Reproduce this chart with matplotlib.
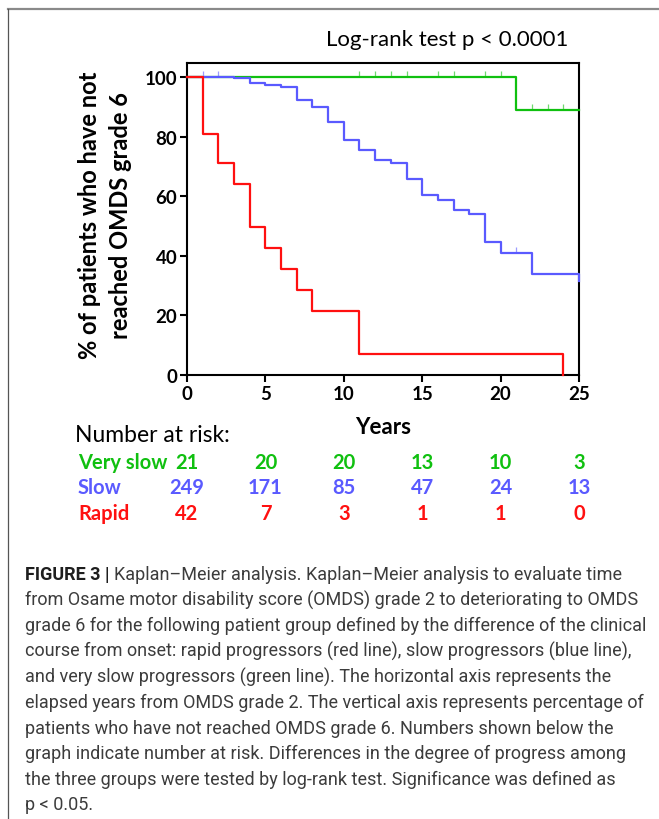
import numpy as np
import matplotlib
matplotlib.use("Agg")
import matplotlib.pyplot as plt
from matplotlib import font_manager
from matplotlib.lines import Line2D

# Kaplan-Meier curves (years, % not reached OMDS grade 6)
rapid_t = [0, 1, 2, 3, 4, 5, 6, 7, 8, 11, 24]
rapid_s = [100, 81, 71, 64, 49.5, 42.5, 35.5, 28.5, 21.5, 7, 0]

slow_t = [0, 3, 4, 5, 6, 7, 8, 9, 10, 11, 12, 13, 14, 15, 16, 17, 18, 19, 20, 22, 25]
slow_s = [100, 99.6, 98, 97.2, 96.5, 92.4, 90.1, 84.8, 78.7, 75.5, 72.1, 71,
          65.8, 60.4, 58.8, 55.4, 53.9, 44.6, 40.9, 33.9, 31.7]
slow_cens_t = [1, 2, 21]
slow_cens_s = [100, 100, 40.9]

vslow_t = [0, 21, 25]
vslow_s = [100, 88.8, 88.8]
vslow_cens_t = [11, 12, 13, 14, 16, 17, 19, 20, 22, 23, 24]
vslow_cens_s = [100] * 8 + [88.8] * 3

# number at risk table
risk_years = [0, 5, 10, 15, 20, 25]
risk_groups = ["Very slow", "Slow", "Rapid"]
risk_counts = [[21, 20, 20, 13, 10, 3],
               [249, 171, 85, 47, 24, 13],
               [42, 7, 3, 1, 1, 0]]

caption_lines = [
    "Kaplan\u2013Meier analysis. Kaplan\u2013Meier analysis to evaluate time",
    "from Osame motor disability score (OMDS) grade 2 to deteriorating to OMDS",
    "grade 6 for the following patient group defined by the difference of the clinical",
    "course from onset: rapid progressors (red line), slow progressors (blue line),",
    "and very slow progressors (green line). The horizontal axis represents the",
    "elapsed years from OMDS grade 2. The vertical axis represents percentage of",
    "patients who have not reached OMDS grade 6. Numbers shown below the",
    "graph indicate number at risk. Differences in the degree of progress among",
    "the three groups were tested by log-rank test. Significance was defined as",
    "p < 0.05.",
]

RED = "#ff1010"
BLUE = "#5a5aff"
GREEN = "#10c010"

W, H = 659, 820
fig = plt.figure(figsize=(W / 100, H / 100), dpi=100)


def fx(x):
    return x / W


def fy(y):
    return 1 - y / H


installed = {f.name for f in font_manager.fontManager.ttflist}
chart_font = "Lato" if "Lato" in installed else "DejaVu Sans"
cap_font = next((f for f in ["Liberation Sans Narrow", "Roboto", "Liberation Sans"]
                 if f in installed), "DejaVu Sans")
plt.rcParams["font.family"] = chart_font

# outer frame
fig.add_artist(Line2D([fx(8), 1], [fy(10), fy(10)], color="#8a8a8a", lw=1.6))
fig.add_artist(Line2D([fx(8), fx(8)], [fy(10), 0], color="#555555", lw=0.9))

# main axes
ax_w = fx(579) - fx(187)
ax = fig.add_axes([fx(187), fy(376), ax_w, fy(64) - fy(376)])
ax.step(vslow_t, vslow_s, where="post", color=GREEN, lw=1.6, clip_on=False, zorder=3)
ax.step(slow_t, slow_s, where="post", color=BLUE, lw=1.6, clip_on=False, zorder=4)
ax.step(rapid_t, rapid_s, where="post", color=RED, lw=1.6, clip_on=False, zorder=5)
ax.plot(vslow_cens_t, vslow_cens_s, ls="none", marker=2, ms=4, mew=0.9,
        color=GREEN, alpha=0.6, clip_on=False, zorder=3)
ax.plot(slow_cens_t, slow_cens_s, ls="none", marker=2, ms=4, mew=0.9,
        color=BLUE, alpha=0.6, clip_on=False, zorder=4)

ax.set_xlim(0, 25)
ax.set_ylim(0, 104.7)
ax.set_xticks(risk_years)
ax.set_yticks([0, 20, 40, 60, 80, 100])
for sp in ax.spines.values():
    sp.set_linewidth(1.5)
ax.tick_params(direction="out", length=5, width=1.5, labelsize=13.5, pad=2)
for lab in ax.get_xticklabels() + ax.get_yticklabels():
    lab.set_fontweight("bold")

ax.set_ylabel("% of patients who have not\nreached OMDS grade 6",
              fontsize=17, fontweight="bold", linespacing=1.4,
              va="center", ha="center")
ax.yaxis.set_label_coords((105 - 187) / (579 - 187), 0.515)

fig.text(fx(383), fy(428), "Years", ha="center", va="center",
         fontsize=16, fontweight="bold")
fig.text(fx(447), fy(40), "Log-rank test p < 0.0001", ha="center", va="center",
         fontsize=16)

# number at risk
fig.text(fx(75), fy(436), "Number at risk:", ha="left", va="center", fontsize=16.5)
row_y = [463, 488, 514]
colors = [GREEN, BLUE, RED]
for name, counts, yy, c in zip(risk_groups, risk_counts, row_y, colors):
    fig.text(fx(78), fy(yy), name, ha="left", va="center", fontsize=14.5,
             fontweight="bold", color=c)
    for yr, n in zip(risk_years, counts):
        xpix = ax.transData.transform((yr, 0))[0]
        fig.text(xpix / W, fy(yy), str(n), ha="center", va="center",
                 fontsize=14.5, fontweight="bold", color=c)

# caption: size the font so the longest line fits the reference width
fig.canvas.draw()
r = fig.canvas.get_renderer()
probe = fig.text(0, 0, caption_lines[5], fontsize=14, family=cap_font)
wpx = probe.get_window_extent(renderer=r).width
probe.remove()
cap_size = 14 * 622 / wpx

cap_y0, cap_dy = 575, 25.6
t0 = fig.text(fx(25), fy(cap_y0), "FIGURE 3 | ", ha="left", va="center",
              fontsize=cap_size, fontweight="bold", color="#1e1e1e", family=cap_font)
bb = t0.get_window_extent(renderer=r)
for i, line in enumerate(caption_lines):
    x0 = bb.x1 / W if i == 0 else fx(25)
    fig.text(x0, fy(cap_y0 + i * cap_dy), line, ha="left", va="center",
             fontsize=cap_size, color="#3c3c3c", family=cap_font)

fig.savefig("out.png", dpi=100)
